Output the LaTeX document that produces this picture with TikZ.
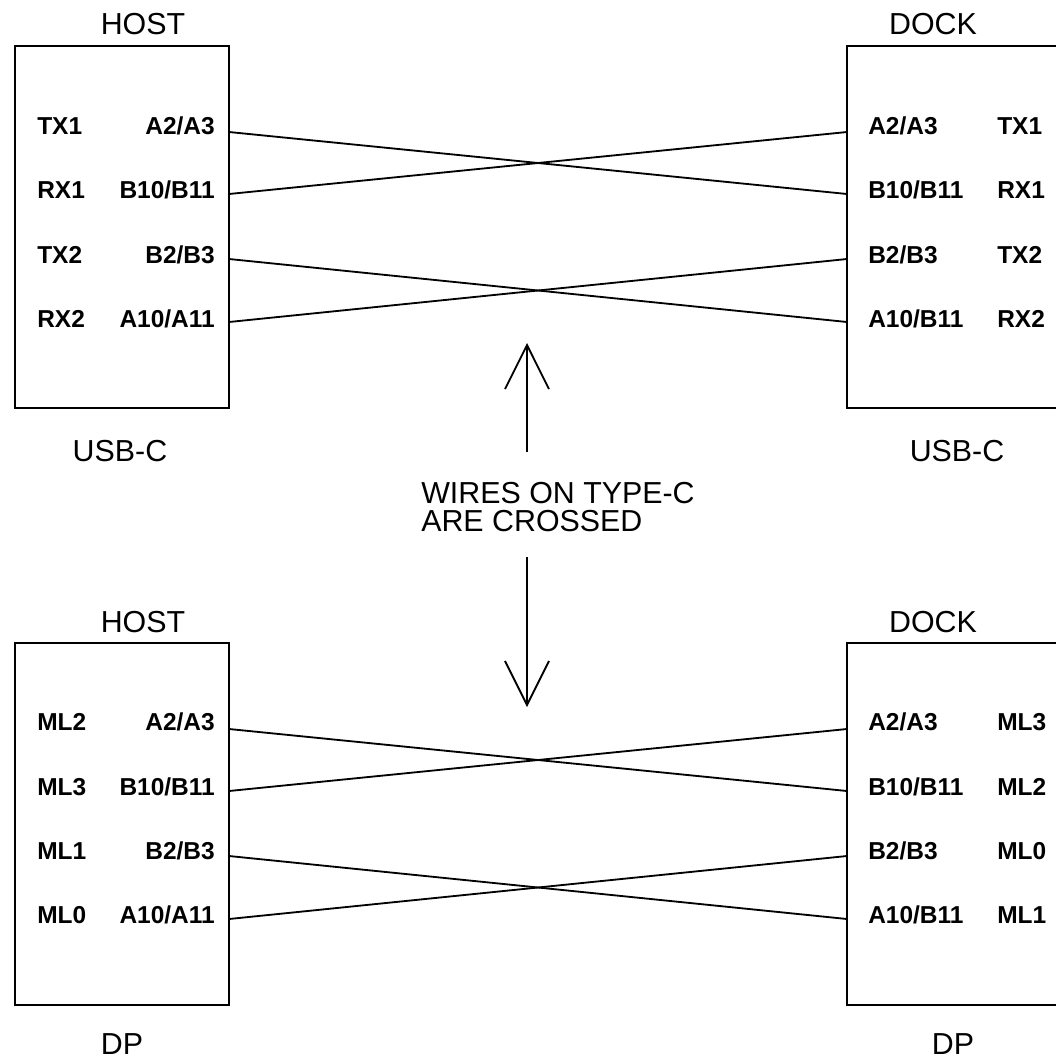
\documentclass[tikz,border=0pt]{standalone}
\usepackage{fontspec}
\setmainfont{Liberation Sans}
\usetikzlibrary{arrows.meta}
\tikzstyle{arrow} = [line width=1.3pt, -{Straight Barb[length=1.1cm, width=1.1cm]}]
\tikzstyle{wire} = [line width=1.3pt]
\tikzstyle{conn} = [draw, line width=1.3pt, minimum width=5.35cm, minimum height=9.05cm]
\tikzstyle{pin} = [inner sep=0pt, font=\fontsize{17.4}{20}\selectfont\bfseries]
\tikzstyle{tag} = [inner sep=0pt, anchor=base, font=\fontsize{21.6}{20.5}\selectfont]

\begin{document}
\begin{tikzpicture}[x=0.025cm, y=-0.025cm]
  \useasboundingbox (0,0) rectangle (1056,1061);
  % USB-C side
  \node[conn] (hostU) at (122,227) {};
  \node[conn] (dockU) at (954,227) {};
  \node[tag] (hostUtop) at (143,34) {HOST};
  \node[tag] (dockUtop) at (933,34) {DOCK};
  \node[tag] (hostUbot) at (120,461) {USB-C};
  \node[tag] (dockUbot) at (957,461) {USB-C};
  \node[pin, anchor=base west] (hu1) at (37,134) {TX1};
  \node[pin, anchor=base west] (hu2) at (37,198) {RX1};
  \node[pin, anchor=base west] (hu3) at (37,263) {TX2};
  \node[pin, anchor=base west] (hu4) at (37,327) {RX2};
  \node[pin, anchor=base east] (hp1) at (215,134) {A2/A3};
  \node[pin, anchor=base east] (hp2) at (215,198) {B10/B11};
  \node[pin, anchor=base east] (hp3) at (215,263) {B2/B3};
  \node[pin, anchor=base east] (hp4) at (215,327) {A10/A11};
  \node[pin, anchor=base west] (dp1) at (868,134) {A2/A3};
  \node[pin, anchor=base west] (dp2) at (868,198) {B10/B11};
  \node[pin, anchor=base west] (dp3) at (868,263) {B2/B3};
  \node[pin, anchor=base west] (dp4) at (868,327) {A10/B11};
  \node[pin, anchor=base west] (du1) at (997,134) {TX1};
  \node[pin, anchor=base west] (du2) at (997,198) {RX1};
  \node[pin, anchor=base west] (du3) at (997,263) {TX2};
  \node[pin, anchor=base west] (du4) at (997,327) {RX2};
  \coordinate (uh1) at (229,132);
  \coordinate (uh2) at (229,194);
  \coordinate (uh3) at (229,259);
  \coordinate (uh4) at (229,322);
  \coordinate (ud1) at (847,132);
  \coordinate (ud2) at (847,194);
  \coordinate (ud3) at (847,259);
  \coordinate (ud4) at (847,322);
  \draw[wire] (uh1) -- (ud2);
  \draw[wire] (uh2) -- (ud1);
  \draw[wire] (uh3) -- (ud4);
  \draw[wire] (uh4) -- (ud3);
  % note between the two halves
  \node[anchor=west, align=left, inner sep=0pt, font=\fontsize{21.6}{20.5}\selectfont] (note) at (421,507) {WIRES ON TYPE-C\\ARE CROSSED};
  \coordinate (upfoot) at (527,452);
  \coordinate (uptip) at (527,343);
  \coordinate (downfoot) at (527,557);
  \coordinate (downtip) at (527,707);
  \draw[arrow] (upfoot) -- (uptip);
  \draw[arrow] (downfoot) -- (downtip);
  % DP side
  \node[conn] (hostD) at (122,824) {};
  \node[conn] (dockD) at (954,824) {};
  \node[tag] (hostDtop) at (143,632) {HOST};
  \node[tag] (dockDtop) at (933,632) {DOCK};
  \node[tag] (hostDbot) at (122,1054) {DP};
  \node[tag] (dockDbot) at (953,1054) {DP};
  \node[pin, anchor=base west] (hm1) at (37,730) {ML2};
  \node[pin, anchor=base west] (hm2) at (37,795) {ML3};
  \node[pin, anchor=base west] (hm3) at (37,859) {ML1};
  \node[pin, anchor=base west] (hm4) at (37,923) {ML0};
  \node[pin, anchor=base east] (hq1) at (215,730) {A2/A3};
  \node[pin, anchor=base east] (hq2) at (215,795) {B10/B11};
  \node[pin, anchor=base east] (hq3) at (215,859) {B2/B3};
  \node[pin, anchor=base east] (hq4) at (215,923) {A10/A11};
  \node[pin, anchor=base west] (dq1) at (868,730) {A2/A3};
  \node[pin, anchor=base west] (dq2) at (868,795) {B10/B11};
  \node[pin, anchor=base west] (dq3) at (868,859) {B2/B3};
  \node[pin, anchor=base west] (dq4) at (868,923) {A10/B11};
  \node[pin, anchor=base west] (dm1) at (997,730) {ML3};
  \node[pin, anchor=base west] (dm2) at (997,795) {ML2};
  \node[pin, anchor=base west] (dm3) at (997,859) {ML0};
  \node[pin, anchor=base west] (dm4) at (997,923) {ML1};
  \coordinate (dh1) at (229,729);
  \coordinate (dh2) at (229,791);
  \coordinate (dh3) at (229,856);
  \coordinate (dh4) at (229,919);
  \coordinate (dd1) at (847,729);
  \coordinate (dd2) at (847,791);
  \coordinate (dd3) at (847,856);
  \coordinate (dd4) at (847,919);
  \draw[wire] (dh1) -- (dd2);
  \draw[wire] (dh2) -- (dd1);
  \draw[wire] (dh3) -- (dd4);
  \draw[wire] (dh4) -- (dd3);
\end{tikzpicture}
\end{document}
